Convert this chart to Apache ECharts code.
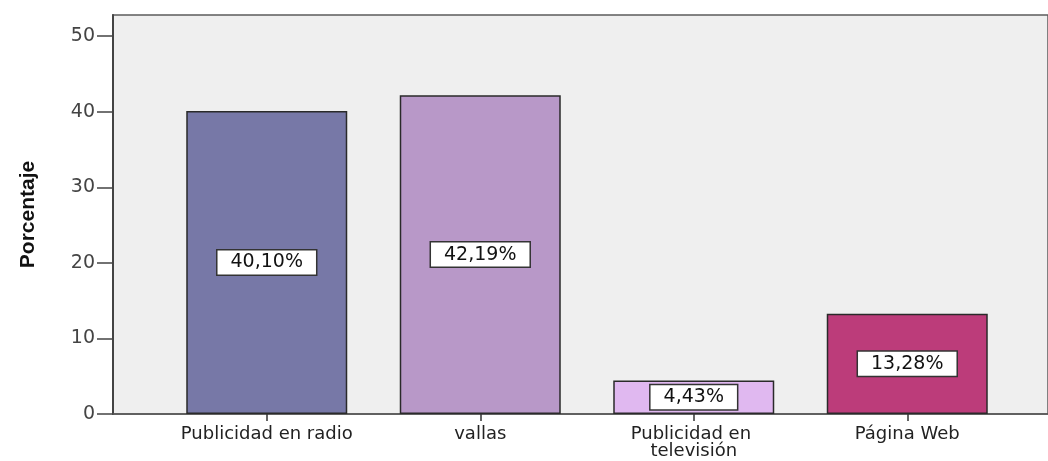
<!DOCTYPE html>
<html>
<head>
<meta charset="utf-8">
<script src="https://cdn.jsdelivr.net/npm/echarts@6/dist/echarts.min.js"></script>
<style>
  html, body { margin: 0; padding: 0; background: #ffffff; }
  #chart { width: 1048px; height: 461px; }
</style>
</head>
<body>
<div id="chart"></div>
<script>
// Medios publicitarios y porcentaje de respuestas
const categories = ['Publicidad en radio', 'vallas', 'Publicidad en televisión', 'Página Web'];
const percentages = [40.10, 42.19, 4.43, 13.28];
const barColors = ['#7778a7', '#b898c8', '#e0b8f0', '#bc3c7a'];
const yTicks = [0, 10, 20, 30, 40, 50];
const yAxisTitle = 'Porcentaje';

const Y_MAX = 52.8;
const GRID_TOP = 15;
const GRID_BOTTOM = 47;

const chart = echarts.init(document.getElementById('chart'), null, { renderer: 'canvas' });

const option = {
  animation: false,
  backgroundColor: '#ffffff',
  grid: [
    // framed plotting area with the value axis
    {
      left: 113, right: -20, top: GRID_TOP, bottom: GRID_BOTTOM,
      show: true, backgroundColor: '#efefef',
      borderColor: '#5c5c5c', borderWidth: 1.5
    },
    // band used to place the bars
    {
      left: 160, right: 34, top: GRID_TOP, bottom: GRID_BOTTOM
    }
  ],
  xAxis: [
    {
      gridIndex: 0, type: 'value', min: 0, max: 1,
      axisLine: { show: true, lineStyle: { color: '#555555', width: 1.5 } },
      axisTick: { show: false }, axisLabel: { show: false }, splitLine: { show: false }
    },
    {
      gridIndex: 1, type: 'category', data: categories,
      axisLine: { show: false },
      axisTick: { show: true, alignWithLabel: true, length: 7, lineStyle: { color: '#333333', width: 1.5 } },
      axisLabel: {
        margin: 12,
        color: '#222222',
        fontFamily: 'DejaVu Sans',
        fontSize: 18,
        lineHeight: 17,
        width: 190,
        overflow: 'break',
        interval: 0
      }
    }
  ],
  yAxis: [
    {
      gridIndex: 0, type: 'value', min: 0, max: Y_MAX,
      name: yAxisTitle,
      nameLocation: 'middle',
      nameGap: 74,
      nameRotate: 90,
      nameTextStyle: { fontFamily: 'Liberation Sans', fontWeight: 'bold', fontSize: 21, color: '#111111' },
      axisLine: { show: true, lineStyle: { color: '#444444', width: 2 } },
      axisTick: { show: true, length: 16, customValues: yTicks, lineStyle: { color: '#444444', width: 1.5 } },
      axisLabel: {
        customValues: yTicks,
        margin: 18,
        color: '#444444',
        fontFamily: 'DejaVu Sans',
        fontSize: 19
      },
      splitLine: { show: false }
    },
    {
      gridIndex: 1, type: 'value', min: 0, max: Y_MAX, show: false
    }
  ],
  series: [
    {
      type: 'bar',
      xAxisIndex: 1, yAxisIndex: 1,
      barWidth: 161,
      data: percentages.map((v, i) => ({
        value: v,
        itemStyle: { color: barColors[i] }
      })),
      itemStyle: { borderColor: '#2a2a2a', borderWidth: 1.5 },
      label: {
        show: true,
        position: 'inside',
        formatter: p => p.value.toFixed(2).replace('.', ',') + '%',
        color: '#111111',
        fontFamily: 'DejaVu Sans',
        fontSize: 19,
        lineHeight: 18,
        backgroundColor: '#ffffff',
        borderColor: '#333333',
        borderWidth: 1.5,
        padding: [3, 13]
      }
    }
  ]
};

chart.setOption(option);
</script>
</body>
</html>
